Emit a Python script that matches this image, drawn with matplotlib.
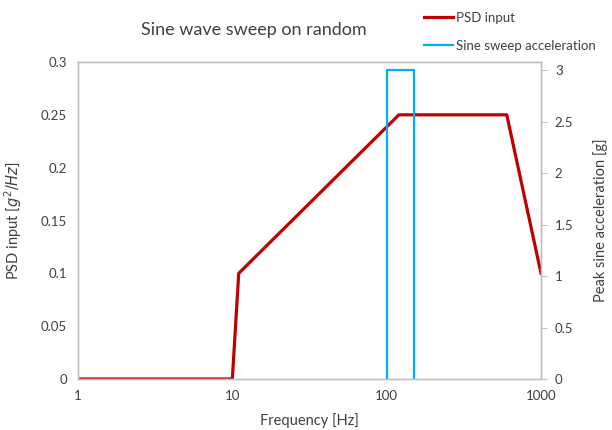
import matplotlib
matplotlib.use('agg')
import matplotlib.pyplot as plt
from matplotlib.ticker import FixedLocator, FixedFormatter

# data
psd_freq = [1, 10, 11, 120, 600, 1000]
psd_val = [0, 0, 0.1, 0.25, 0.25, 0.1]
sine_freq = [100, 100, 150, 150]
sine_acc = [0, 3, 3, 0]
x_ticks = [1, 10, 100, 1000]
x_labels = ['1', '10', '100', '1000']
left_ticks = [0, 0.05, 0.1, 0.15, 0.2, 0.25, 0.3]
left_labels = ['0', '0.05', '0.1', '0.15', '0.2', '0.25', '0.3']
right_ticks = [0, 0.5, 1, 1.5, 2, 2.5, 3]
right_labels = ['0', '0.5', '1', '1.5', '2', '2.5', '3']

plt.rcParams['font.family'] = ['Lato', 'DejaVu Sans']
red = '#C00000'
blue = '#00B0F0'
grey = '#BFBFBF'
txt = '#404040'

fig = plt.figure(figsize=(6.12, 4.3), dpi=100)
ax = fig.add_axes([78/612, 1-379/430, (541-78)/612, (379-62)/430])
ax2 = ax.twinx()

l1, = ax.plot(psd_freq, psd_val, color=red, lw=2.3, label='PSD input')
l2, = ax2.plot(sine_freq, sine_acc, color=blue, lw=1.6, label='Sine sweep acceleration')

ax.set_xscale('log')
ax.set_xlim(1, 1000)
ax.set_ylim(0, 0.3)
ax2.set_ylim(0, 3.08)
ax.xaxis.set_major_locator(FixedLocator(x_ticks))
ax.xaxis.set_major_formatter(FixedFormatter(x_labels))
ax.xaxis.set_minor_locator(FixedLocator([]))
ax.set_yticks(left_ticks)
ax.set_yticklabels(left_labels)
ax2.set_yticks(right_ticks)
ax2.set_yticklabels(right_labels)

for a in (ax, ax2):
    for s in a.spines.values():
        s.set_color(grey)
        s.set_linewidth(1.0)
ax.tick_params(axis='both', length=0, labelsize=9.5, colors=txt, pad=8)
ax2.tick_params(axis='y', length=4, color=grey, labelsize=9.5, labelcolor=txt, pad=6)

ax.set_xlabel('Frequency [Hz]', fontsize=10.5, color=txt, labelpad=8)
ax.set_ylabel(r'PSD input [$g^2/Hz$]', fontsize=10.5, color=txt, labelpad=12)
ax2.set_ylabel('Peak sine acceleration [g]', fontsize=10.5, color=txt, labelpad=14)

fig.text(254/612, 1-30/430, 'Sine wave sweep on random', fontsize=13, color=txt,
         ha='center', va='center')

fig.legend(handles=[l1, l2], loc='upper left', bbox_to_anchor=(412/612, 1.0),
           frameon=False, fontsize=9.5, handlelength=2.2, handletextpad=0.2,
           labelspacing=1.2, labelcolor=txt)

fig.savefig('out.png', dpi=100)
